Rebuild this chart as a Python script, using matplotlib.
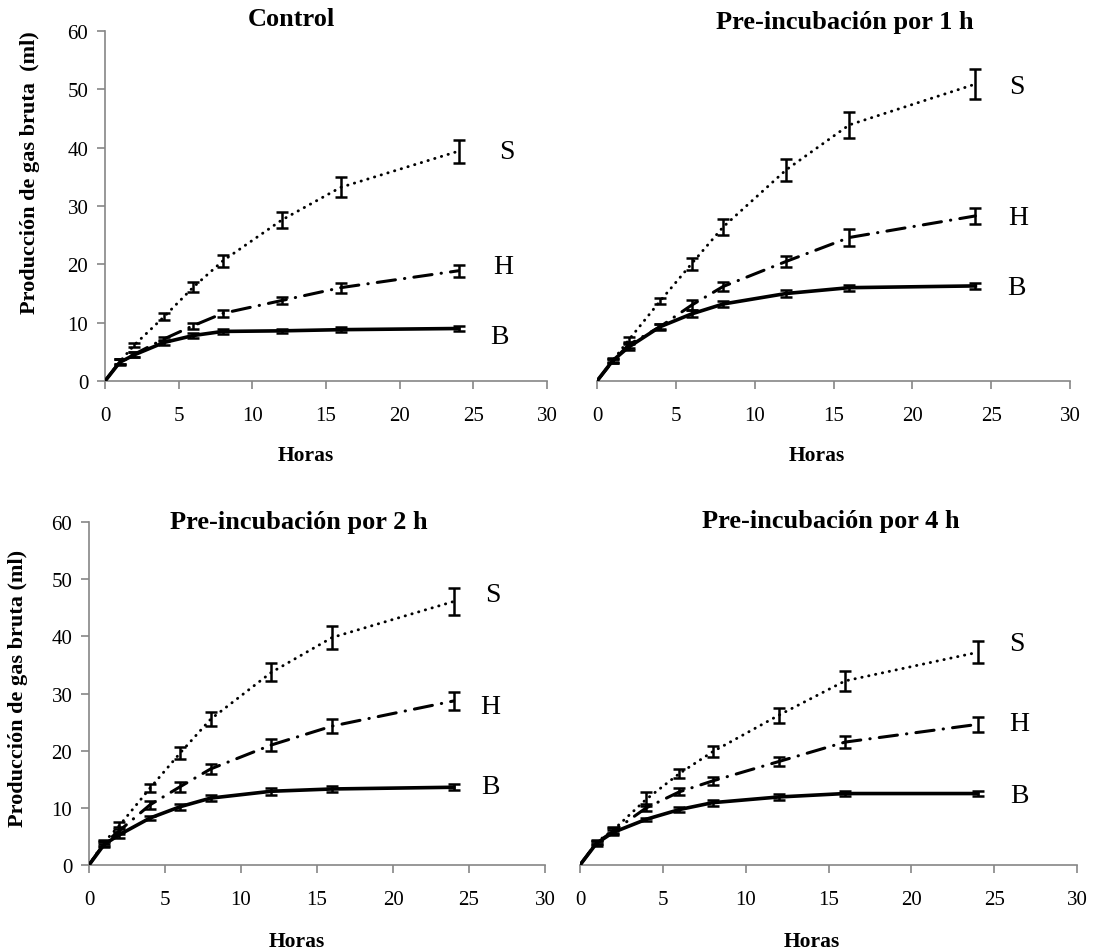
import numpy as np
import matplotlib
matplotlib.use("Agg")
import matplotlib.pyplot as plt

plt.rcParams['font.family'] = ['Liberation Serif', 'DejaVu Serif']

hours = [0, 1, 2, 4, 6, 8, 12, 16, 24]
panel_titles = ["Control", "Pre-incubación por 1 h", "Pre-incubación por 2 h", "Pre-incubación por 4 h"]
series_names = ["S", "H", "B"]
x_ticks = [0, 5, 10, 15, 20, 25, 30]
y_ticks = [0, 10, 20, 30, 40, 50, 60]

# Control
ctrl_S = [0, 3.3, 6.2, 11.0, 16.1, 20.6, 27.6, 33.2, 39.4]
ctrl_S_err = [0, 0.4, 0.4, 0.6, 0.85, 1.0, 1.4, 1.7, 2.0]
ctrl_H = [0, 3.3, 4.6, 7.2, 9.5, 11.6, 13.8, 16.0, 18.9]
ctrl_H_err = [0, 0.4, 0.4, 0.4, 0.5, 0.6, 0.6, 0.85, 1.0]
ctrl_B = [0, 3.2, 4.5, 6.6, 7.8, 8.5, 8.6, 8.8, 9.0]
ctrl_B_err = [0, 0.5, 0.4, 0.4, 0.4, 0.4, 0.3, 0.4, 0.4]

# Pre-incubation 1 h
p1_S = [0, 3.5, 7.0, 13.7, 20.1, 26.4, 36.2, 43.9, 50.9]
p1_S_err = [0, 0.3, 0.5, 0.5, 1.0, 1.4, 1.9, 2.3, 2.6]
p1_H = [0, 3.4, 6.2, 9.3, 13.0, 16.2, 20.5, 24.6, 28.3]
p1_H_err = [0, 0.3, 0.5, 0.4, 0.85, 0.8, 1.0, 1.4, 1.4]
p1_B = [0, 3.5, 5.8, 9.3, 11.5, 13.2, 15.0, 16.0, 16.3]
p1_B_err = [0, 0.4, 0.5, 0.5, 0.6, 0.5, 0.6, 0.5, 0.5]

# Pre-incubation 2 h
p2_S = [0, 4.0, 6.9, 13.4, 19.6, 25.5, 33.7, 39.8, 46.1]
p2_S_err = [0, 0.4, 0.6, 0.7, 1.0, 1.2, 1.6, 2.0, 2.3]
p2_H = [0, 3.8, 6.0, 10.5, 13.7, 16.8, 21.0, 24.3, 28.7]
p2_H_err = [0, 0.4, 0.6, 0.65, 0.9, 0.9, 1.0, 1.2, 1.5]
p2_B = [0, 3.6, 5.3, 8.2, 10.2, 11.7, 12.9, 13.3, 13.6]
p2_B_err = [0, 0.4, 0.5, 0.4, 0.5, 0.5, 0.6, 0.6, 0.5]

# Pre-incubation 4 h
p4_S = [0, 4.0, 6.1, 11.5, 16.0, 19.8, 26.2, 32.2, 37.2]
p4_S_err = [0, 0.4, 0.5, 1.2, 0.8, 0.95, 1.3, 1.7, 1.9]
p4_H = [0, 3.9, 5.9, 10.0, 12.8, 14.7, 18.1, 21.5, 24.6]
p4_H_err = [0, 0.3, 0.5, 0.6, 0.6, 0.75, 0.8, 1.1, 1.25]
p4_B = [0, 3.8, 5.7, 8.0, 9.7, 10.9, 11.9, 12.5, 12.5]
p4_B_err = [0, 0.4, 0.4, 0.3, 0.4, 0.5, 0.5, 0.5, 0.5]

panels = [
    (ctrl_S, ctrl_S_err, ctrl_H, ctrl_H_err, ctrl_B, ctrl_B_err),
    (p1_S, p1_S_err, p1_H, p1_H_err, p1_B, p1_B_err),
    (p2_S, p2_S_err, p2_H, p2_H_err, p2_B, p2_B_err),
    (p4_S, p4_S_err, p4_H, p4_H_err, p4_B, p4_B_err),
]

W, H = 1098, 953
fig = plt.figure(figsize=(W / 100, H / 100), dpi=100)

# axes rectangles in pixels: left, right, top, bottom
rects_px = [(105, 547, 32, 382), (597, 1070, 32, 382),
            (89, 545, 523, 866), (580, 1077, 523, 866)]
title_px = [(291, 20), (845, 22), (299, 523), (831, 522)]
xlabel_px = [(306, 456), (817, 456), (297, 942), (812, 942)]
ylabel_px = [(30, 173, "Producción de gas bruta  (ml)"), None,
             (18, 688, "Producción de gas bruta (ml)"), None]
label_pos = [
    [(27.3, 39.4), (27.0, 19.7), (26.8, 7.7)],
    [(26.6, 50.5), (26.7, 28.1), (26.6, 16.1)],
    [(26.6, 47.3), (26.4, 27.7), (26.4, 13.7)],
    [(26.4, 38.8), (26.5, 24.8), (26.5, 12.2)],
]

styles = [
    dict(linestyle=(0, (0.1, 2.3)), linewidth=2.1, dash_capstyle='round'),
    dict(linestyle=(0, (6, 3, 0.1, 3)), linewidth=2.2, dash_capstyle='round'),
    dict(linestyle='solid', linewidth=2.6, dash_capstyle='butt'),
]

spine_col = '#868686'

for k in range(4):
    l, r, t, b = rects_px[k]
    ax = fig.add_axes([l / W, 1 - b / H, (r - l) / W, (b - t) / H])
    ax.set_xlim(0, 30)
    ax.set_ylim(0, 60)
    for sp in ['top', 'right']:
        ax.spines[sp].set_visible(False)
    ax.spines['bottom'].set_color(spine_col)
    ax.spines['bottom'].set_linewidth(1.2)
    ax.set_xticks(x_ticks)
    ax.set_xticklabels([str(v) for v in x_ticks])
    if k in (0, 2):
        ax.spines['left'].set_color(spine_col)
        ax.spines['left'].set_linewidth(1.2)
        ax.set_yticks(y_ticks)
        ax.set_yticklabels([str(v) for v in y_ticks])
    else:
        ax.spines['left'].set_visible(False)
        ax.set_yticks([])
    ax.tick_params(axis='both', direction='out', length=6, width=1.2, color=spine_col,
                   labelsize=15, labelcolor='black', pad=12)
    ax.tick_params(axis='y', pad=6)
    ax.patch.set_alpha(0)

    S, Se, Hh, He, B, Be = panels[k]
    data = [(S, Se), (Hh, He), (B, Be)]
    for j, (vals, errs) in enumerate(data):
        st = styles[j]
        ax.plot(hours, vals, color='black', linewidth=st['linewidth'],
                linestyle=st['linestyle'], dash_capstyle=st['dash_capstyle'],
                solid_joinstyle='round', zorder=3)
        ax.errorbar(hours[1:], vals[1:], yerr=errs[1:], fmt='none', ecolor='black',
                    elinewidth=1.8, capsize=4, capthick=1.8, zorder=4)
        lx, ly = label_pos[k][j]
        ax.text(lx, ly, series_names[j], fontsize=20, ha='center', va='center')

    tx, ty = title_px[k]
    fig.text(tx / W, 1 - ty / H, panel_titles[k], fontsize=19, fontweight='bold',
             ha='center', va='center')
    hx, hy = xlabel_px[k]
    fig.text(hx / W, 1 - hy / H, "Horas", fontsize=15.5, fontweight='bold',
             ha='center', va='center')
    if ylabel_px[k] is not None:
        yx, yy, txt = ylabel_px[k]
        fig.text(yx / W, 1 - yy / H, txt, fontsize=16, fontweight='bold',
                 ha='center', va='center', rotation=90)

fig.savefig("out.png", dpi=100)
